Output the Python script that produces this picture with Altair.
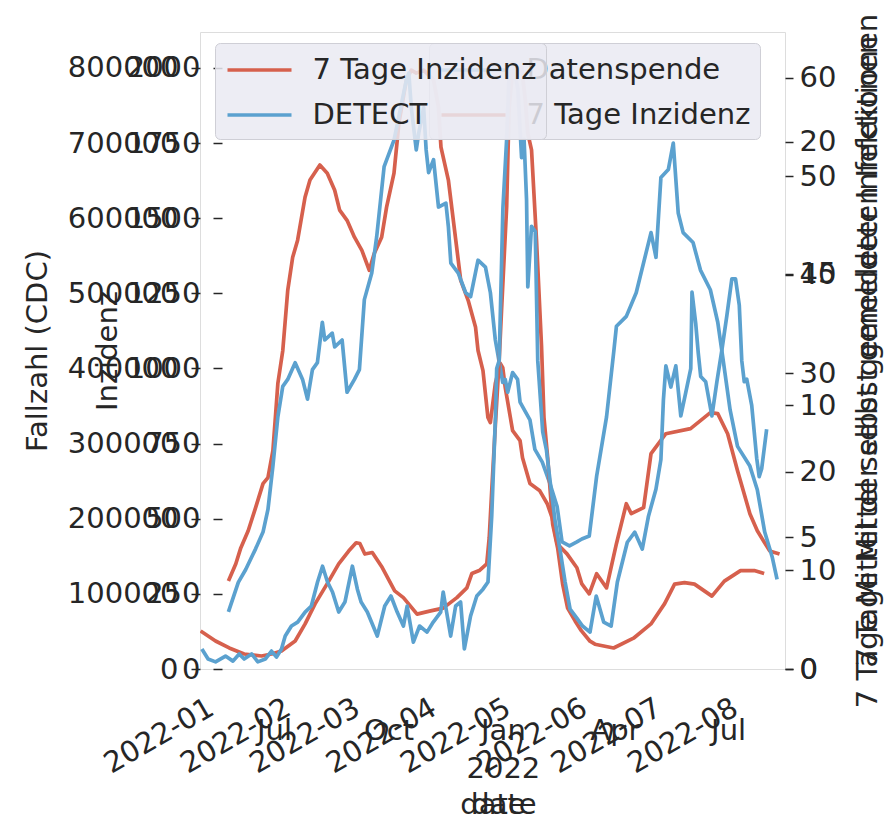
import altair as alt
import pandas as pd

RED = "#d6604d"
BLUE = "#5ba1cf"
TXT = "#262626"
FONT = "DejaVu Sans"
FS = 29

# ---------------- USA: CDC cases (7-day) and DETECT ----------------
us_case_dates = ["2021-05-03","2021-05-15","2021-05-26","2021-06-07","2021-06-21","2021-06-29","2021-07-07",
    "2021-07-18","2021-07-26","2021-08-03","2021-08-14","2021-08-22","2021-08-30","2021-09-05","2021-09-08",
    "2021-09-12","2021-09-18","2021-09-26","2021-10-06","2021-10-13","2021-10-24","2021-11-03","2021-11-14",
    "2021-11-25","2021-12-03","2021-12-07","2021-12-13","2021-12-19","2021-12-21","2021-12-23","2021-12-26",
    "2021-12-29","2021-12-31","2022-01-04","2022-01-06","2022-01-09","2022-01-13","2022-01-16","2022-01-19",
    "2022-01-21","2022-01-24","2022-01-28","2022-02-01","2022-02-03","2022-02-06","2022-02-10","2022-02-14",
    "2022-02-18","2022-02-22","2022-02-28","2022-03-05","2022-03-12","2022-03-16","2022-03-31","2022-04-16",
    "2022-04-30","2022-05-11","2022-05-19","2022-05-27","2022-06-04","2022-06-18","2022-06-28","2022-07-11",
    "2022-07-22","2022-07-30"]
us_cases = [50700,37300,28000,20000,17300,20000,24000,
    37300,60000,86700,117000,140000,157000,168000,167000,
    153000,155000,135000,104000,95000,73000,77000,81000,
    95000,108000,127000,131000,140000,175000,237000,327000,
    411000,481000,615000,748000,801000,793000,801000,757000,
    713000,691000,571000,431000,335000,281000,193000,161000,
    113000,81000,64000,51000,37000,33000,28000,41000,
    60000,87000,113000,115000,113000,97000,117000,131000,
    131000,127000]

detect_dates = ["2021-05-04","2021-05-09","2021-05-15","2021-05-23","2021-05-29","2021-06-03","2021-06-07",
    "2021-06-13","2021-06-18","2021-06-24","2021-06-29","2021-07-03","2021-07-07","2021-07-10","2021-07-15",
    "2021-07-20","2021-07-26","2021-07-31","2021-08-05","2021-08-09","2021-08-13","2021-08-17","2021-08-22",
    "2021-08-27","2021-09-02","2021-09-06","2021-09-09","2021-09-14","2021-09-22","2021-09-28","2021-10-03",
    "2021-10-08","2021-10-13","2021-10-16","2021-10-21","2021-10-26","2021-11-01","2021-11-06","2021-11-12",
    "2021-11-14","2021-11-20","2021-11-24","2021-11-28","2021-12-01","2021-12-06","2021-12-11","2021-12-16",
    "2021-12-20","2021-12-23","2021-12-26","2021-12-27","2021-12-29","2022-01-01","2022-01-04","2022-01-06",
    "2022-01-09","2022-01-13","2022-01-16","2022-01-18","2022-01-20","2022-01-21","2022-01-24","2022-01-27",
    "2022-01-29","2022-02-02","2022-02-05","2022-02-08","2022-02-12","2022-02-16","2022-02-20","2022-02-24",
    "2022-03-02","2022-03-06","2022-03-12","2022-03-17","2022-03-23","2022-03-29","2022-04-03","2022-04-11",
    "2022-04-17","2022-04-23","2022-04-28","2022-05-04","2022-05-08","2022-05-10","2022-05-12","2022-05-16",
    "2022-05-20","2022-05-24","2022-05-28","2022-06-01","2022-06-02","2022-06-05","2022-06-07","2022-06-09",
    "2022-06-13","2022-06-18","2022-06-22","2022-06-26","2022-06-30","2022-07-04","2022-07-07","2022-07-10",
    "2022-07-12","2022-07-14","2022-07-16","2022-07-20","2022-07-24","2022-07-26","2022-07-28","2022-08-01"]
detect_vals = [0.76,0.38,0.27,0.49,0.30,0.57,0.38,
    0.57,0.27,0.38,0.68,0.45,0.76,1.25,1.63,
    1.78,2.16,2.39,3.30,3.90,3.30,2.92,2.16,
    2.54,3.90,3.03,2.54,2.16,1.25,2.39,2.77,
    2.16,1.63,2.39,1.02,1.63,1.40,1.78,2.16,
    2.92,1.25,2.39,2.54,0.76,2.01,2.77,3.03,
    3.30,5.80,9.58,11.4,11.7,17.5,20.1,22.6,
    23.0,22.0,19.4,20.1,17.8,14.5,16.8,16.6,
    11.7,9.0,8.3,7.1,5.6,4.5,3.3,2.27,
    1.89,1.63,1.40,2.77,1.78,1.63,3.30,4.81,
    5.19,4.55,5.80,6.82,7.95,10.2,11.5,10.7,
    11.5,9.6,10.5,11.4,14.3,13.1,12.0,11.1,
    10.9,9.6,10.9,12.1,13.4,14.8,14.8,13.8,
    11.7,10.9,11.0,10.0,8.0,7.3,7.6,9.1]

# ---------------- Germany: RKI 7-Tage-Inzidenz and Datenspende ----------------
de_inz_dates = ["2022-01-06","2022-01-09","2022-01-11","2022-01-14","2022-01-17","2022-01-20","2022-01-22",
    "2022-01-24","2022-01-25","2022-01-26","2022-01-28","2022-01-30","2022-02-01","2022-02-03","2022-02-06",
    "2022-02-08","2022-02-12","2022-02-15","2022-02-18","2022-02-20","2022-02-23","2022-02-26","2022-03-01",
    "2022-03-04","2022-03-06","2022-03-09","2022-03-11","2022-03-14","2022-03-16","2022-03-19","2022-03-21",
    "2022-03-23","2022-03-26","2022-03-30","2022-04-01","2022-04-02","2022-04-05","2022-04-08","2022-04-10",
    "2022-04-13","2022-04-16","2022-04-17","2022-04-19","2022-04-21","2022-04-22","2022-04-24","2022-04-26",
    "2022-04-27","2022-04-28","2022-05-01","2022-05-04","2022-05-05","2022-05-08","2022-05-12","2022-05-15",
    "2022-05-17","2022-05-19","2022-05-23","2022-05-27","2022-05-29","2022-06-01","2022-06-04","2022-06-08",
    "2022-06-12","2022-06-16","2022-06-18","2022-06-23","2022-06-26","2022-07-02","2022-07-12","2022-07-20",
    "2022-07-23","2022-07-27","2022-07-31","2022-08-05","2022-08-08","2022-08-13","2022-08-17"]
de_inz = [293,350,403,460,537,617,637,
    727,837,950,1060,1260,1370,1427,1570,
    1627,1677,1650,1593,1527,1493,1437,1393,
    1327,1383,1437,1537,1650,1817,1960,1993,
    1983,1993,1960,1870,1737,1627,1427,1293,
    1227,1137,1060,993,837,820,950,1017,
    1003,937,793,760,703,617,593,550,
    503,417,383,337,283,250,317,270,
    417,550,517,537,717,783,800,853,
    850,783,660,517,460,393,383]

ds_dates = ["2022-01-06","2022-01-10","2022-01-13","2022-01-17","2022-01-20","2022-01-22","2022-01-24",
    "2022-01-26","2022-01-28","2022-01-30","2022-02-02","2022-02-05","2022-02-07","2022-02-09","2022-02-11",
    "2022-02-13","2022-02-14","2022-02-17","2022-02-18","2022-02-21","2022-02-23","2022-02-26","2022-02-28",
    "2022-03-02","2022-03-05","2022-03-07","2022-03-10","2022-03-14","2022-03-19","2022-03-20","2022-03-21",
    "2022-03-23","2022-03-24","2022-03-26","2022-03-27","2022-03-28","2022-03-30","2022-04-01","2022-04-04",
    "2022-04-05","2022-04-06","2022-04-09","2022-04-12","2022-04-14","2022-04-17","2022-04-20","2022-04-22",
    "2022-04-24","2022-04-27","2022-04-28","2022-04-29","2022-05-01","2022-05-03","2022-05-04","2022-05-08",
    "2022-05-10","2022-05-13","2022-05-16","2022-05-19","2022-05-21","2022-05-24","2022-05-27","2022-05-29",
    "2022-06-01","2022-06-04","2022-06-08","2022-06-11","2022-06-12","2022-06-16","2022-06-20","2022-06-26",
    "2022-06-28","2022-06-30","2022-07-03","2022-07-05","2022-07-07","2022-07-09","2022-07-13","2022-07-16",
    "2022-07-20","2022-07-23","2022-07-25","2022-07-28","2022-07-31","2022-08-05","2022-08-08","2022-08-11",
    "2022-08-14","2022-08-16"]
ds_vals = [5.8,8.8,10.1,12.2,13.9,16.2,20.6,
    25.6,28.7,29.4,31.1,29.4,27.4,30.4,31.1,
    35.2,33.4,34.1,32.7,33.4,28.1,29.4,30.4,
    37.5,40.2,43.9,51.0,53.7,59.8,60.5,57.0,
    52.7,54.4,57.0,52.7,50.4,51.7,46.9,47.3,
    44.9,41.2,40.2,38.2,37.8,41.5,40.8,38.2,
    33.4,29.1,29.4,28.1,30.1,29.4,27.1,25.3,
    22.3,21.0,18.9,16.5,12.9,12.5,12.9,13.2,
    13.5,19.6,25.6,32.4,34.8,35.8,38.2,44.3,
    41.8,49.9,50.7,53.4,46.3,44.3,43.3,40.5,
    38.5,35.2,31.7,26.3,22.6,20.6,18.2,13.9,
    11.4,9.1]

us_x_ticks = ["2021-07-01","2021-10-01","2022-01-01","2022-04-01","2022-07-01"]
de_x_ticks = ["2022-01-01","2022-02-01","2022-03-01","2022-04-01","2022-05-01","2022-06-01","2022-07-01","2022-08-01"]
us_left_ticks = [0,100000,200000,300000,400000,500000,600000,700000,800000]
de_left_ticks = [0,250,500,750,1000,1250,1500,1750,2000]
ds_ticks = [0,10,20,30,40,50,60]
detect_ticks = [0,5,10,15,20]

W, H = 585, 637


def frame(dates, values, series):
    return pd.DataFrame({"date": dates, "value": values, "series": series})


def dt(s, h=0):
    y, m, d = (int(p) for p in s.split("-"))
    return alt.DateTime(year=y, month=m, date=d, hours=h, utc=True)


def tick_dt(lst):
    return [dt(s) for s in lst]


axis_common = dict(grid=False, domain=False, labelFont=FONT, labelFontSize=FS, labelColor=TXT,
                   titleFont=FONT, titleFontSize=FS, titleColor=TXT, titleFontWeight="normal",
                   tickColor=TXT, tickWidth=1.5, labelOverlap=False, labelBound=False)

legend_common = dict(orient="none", title=None, direction="vertical",
                     fillColor="rgba(234,234,242,0.85)", strokeColor="#cfcfd6", cornerRadius=5,
                     padding=9, symbolType="M-2,0L2,0", symbolStrokeWidth=3.5, symbolSize=1024,
                     symbolOffset=17.5, symbolFillColor="transparent",
                     labelFont=FONT, labelFontSize=FS, labelColor=TXT, labelOffset=35, rowPadding=12,
                     symbolOpacity=1, labelLimit=400)

# ---- USA group (pandas-style axis: horizontal month labels) ----
us_xenc = alt.X("date:T",
    scale=alt.Scale(type="utc", domain=[dt("2021-05-02", 12), dt("2022-08-15", 18)]),
    axis=alt.Axis(orient="bottom", values=tick_dt(us_x_ticks), ticks=False, tickSize=0,
                  labelAngle=0, labelAlign="center", labelBaseline="top", labelPadding=47,
                  labelLineHeight=38,
                  labelExpr="month(datum.value)==0 ? ['Jan','2022'] : utcFormat(datum.value,'%b')",
                  title="date", titleX=292.5, titleY=135, titleBaseline="middle", titleAnchor="middle",
                  **axis_common))
us_color = alt.Color("series:N",
    scale=alt.Scale(domain=["7 Tage Inzidenz", "DETECT"], range=[RED, BLUE]),
    legend=alt.Legend(legendX=15, legendY=11, **legend_common))

us_cases_line = alt.Chart(frame(us_case_dates, us_cases, "7 Tage Inzidenz")).mark_line(
    strokeWidth=3.7, strokeJoin="round", clip=True).encode(
    x=us_xenc,
    y=alt.Y("value:Q", scale=alt.Scale(domain=[0, 847900], nice=False, zero=False),
            axis=alt.Axis(orient="left", values=us_left_ticks, format="d", tickSize=9, labelPadding=13,
                          title="Fallzahl (CDC)", titleX=-163, titleY=H / 2, titleAngle=270,
                          titleBaseline="middle", **axis_common)),
    color=us_color)

detect_line = alt.Chart(frame(detect_dates, detect_vals, "DETECT")).mark_line(
    strokeWidth=3.7, strokeJoin="round", clip=True).encode(
    x=us_xenc,
    y=alt.Y("value:Q", scale=alt.Scale(domain=[0, 24.17], nice=False, zero=False),
            axis=alt.Axis(orient="right", values=detect_ticks, format="d", tickSize=8, labelPadding=6,
                          title="7 Tage Mittel der selbst gemeldeten Infektionen", titleX=82,
                          titleY=H / 2 + 10, titleAngle=270, titleBaseline="middle", **axis_common)),
    color=us_color)

us_group = alt.layer(us_cases_line, detect_line).resolve_scale(y="independent")

# ---- Germany group (matplotlib-style axis: rotated YYYY-MM labels) ----
de_xenc = alt.X("date:T",
    scale=alt.Scale(type="utc", domain=[dt("2021-12-25", 12), dt("2022-08-19", 5)]),
    axis=alt.Axis(orient="bottom", values=tick_dt(de_x_ticks), ticks=False, tickSize=0,
                  labelAngle=-30, labelAlign="right", labelBaseline="top", labelPadding=24,
                  labelOffset=-12,
                  labelExpr="utcFormat(datum.value,'%Y-%m')",
                  title="date", titleX=303.5, titleY=135, titleBaseline="middle", titleAnchor="middle",
                  **axis_common))
de_color = alt.Color("series:N",
    scale=alt.Scale(domain=["Datenspende", "7 Tage Inzidenz"], range=[BLUE, RED]),
    legend=alt.Legend(legendX=229, legendY=11, **legend_common))

de_inz_line = alt.Chart(frame(de_inz_dates, de_inz, "7 Tage Inzidenz")).mark_line(
    strokeWidth=3.7, strokeJoin="round", clip=True).encode(
    x=de_xenc,
    y=alt.Y("value:Q", scale=alt.Scale(domain=[0, 2119.8], nice=False, zero=False),
            axis=alt.Axis(orient="left", values=de_left_ticks, format="d", tickSize=9, labelPadding=13,
                          offset=-22, title="Inzidenz", titleX=-115, titleY=H / 2, titleAngle=270,
                          titleBaseline="middle", **axis_common)),
    color=de_color)

ds_line = alt.Chart(frame(ds_dates, ds_vals, "Datenspende")).mark_line(
    strokeWidth=3.7, strokeJoin="round", clip=True).encode(
    x=de_xenc,
    y=alt.Y("value:Q", scale=alt.Scale(domain=[0, 64.67], nice=False, zero=False),
            axis=alt.Axis(orient="right", values=ds_ticks, format="d", tickSize=8, labelPadding=6,
                          title="7 Tage Mittel selbst gemeldeter Infektionen", titleX=82, titleY=H / 2,
                          titleAngle=270, titleBaseline="middle", **axis_common)),
    color=de_color)

de_group = alt.layer(de_inz_line, ds_line).resolve_scale(y="independent")

chart = alt.layer(de_group, us_group).resolve_scale(
    x="independent", y="independent", color="independent"
).properties(
    width=W, height=H,
    autosize=alt.AutoSizeParams(type="none"),
    padding={"left": 192, "top": 24, "right": 99, "bottom": 151},
).configure_view(stroke=None).configure(font=FONT)

chart.save("out.html", embed_options={"renderer": "svg", "actions": False})
